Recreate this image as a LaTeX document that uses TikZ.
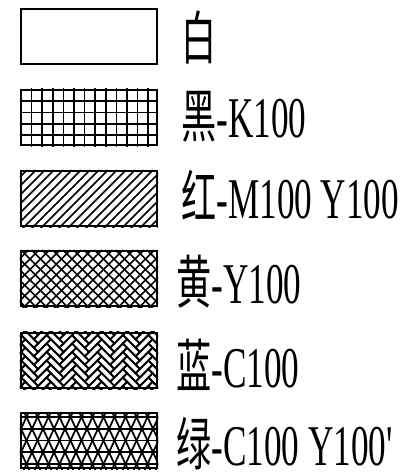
\documentclass[tikz,border=0pt]{standalone}
\usepackage{fontspec}
\setmainfont{Liberation Serif}
\newfontfamily\cjk{Noto Sans CJK SC}
\usepackage{graphicx}
\usetikzlibrary{positioning}

\begin{document}
\begin{tikzpicture}[x=0.025cm,y=-0.025cm,
    swatch/.style={rectangle,draw,line width=1.5pt,minimum width=3.4cm,minimum height=1.375cm,inner sep=0pt},
    hatch/.style={line width=1.25pt},
    lab/.style={anchor=base west,inner sep=0pt,font=\fontsize{41}{41}\selectfont}]
\useasboundingbox (0,0) rectangle (402,475);
\foreach \k/\t in {1/9,2/90,3/171,4/251,5/333,6/413} {
    \node[swatch] (sw\k) at (89,{\t+27.5}) {};
}
% black: grid
\begin{scope}
\clip (sw2.south west) rectangle (sw2.north east);
\foreach \i in {1,...,12} \draw[hatch] ({21+10.6*\i},80) -- ({21+10.6*\i},160);
\foreach \j in {1,...,4} \draw[hatch] (10,{90+11.3*\j}) -- (170,{90+11.3*\j});
\end{scope}
% red: diagonal
\begin{scope}
\clip (sw3.south west) rectangle (sw3.north east);
\foreach \i in {-8,...,16} \draw[hatch] ({21+9*\i},230) -- ({21+9*\i+60},170);
\end{scope}
% yellow: cross
\begin{scope}
\clip (sw4.south west) rectangle (sw4.north east);
\foreach \i in {-7,...,15} {
    \draw[hatch] ({21+10.5*\i},310) -- ({21+10.5*\i+60},250);
    \draw[hatch] ({21+10.5*\i},250) -- ({21+10.5*\i+60},310);
}
\end{scope}
% blue: herringbone
\begin{scope}
\clip (sw5.south west) rectangle (sw5.north east);
\begin{scope}[shift={(sw5.center)},rotate=45,x=0.15cm,y=0.15cm]
\foreach \i in {-14,...,14} \foreach \j in {-5,...,5} {
    \draw[hatch] ({\i+3*\j},{\i-3*\j}) rectangle +(3,1);
    \draw[hatch] ({\i+3*\j},{\i-3*\j+1}) rectangle +(1,3);
}
\end{scope}
\end{scope}
% green: triangles
\begin{scope}
\clip (sw6.south west) rectangle (sw6.north east);
\foreach \j in {0,...,4} \draw[hatch] (10,{417+11.75*\j}) -- (170,{417+11.75*\j});
\foreach \i in {-6,...,18} {
    \draw[hatch] ({26.5+11*\i},417) -- ({26.5+11*\i+25.7},472);
    \draw[hatch] ({26.5+11*\i},417) -- ({26.5+11*\i-25.7},472);
    \draw[hatch] ({26.5+11*\i},417) -- ({26.5+11*\i+1.9},413);
    \draw[hatch] ({26.5+11*\i},417) -- ({26.5+11*\i-1.9},413);
}
\end{scope}
\foreach \k/\x/\y/\txt in {1/181/59/{{\cjk 白}},2/181/137/{{\cjk 黑}-K100},3/181/218/{{\cjk 红}-M100 Y100},
    4/176/303/{{\cjk 黄}-Y100},5/176/387/{{\cjk 蓝}-C100},6/176/465/{{\cjk 绿}-C100 Y100\textquotesingle}} {
    \node[lab] (t\k) at (\x,\y) {\scalebox{0.61}[1]{\txt}};
}
\end{tikzpicture}
\end{document}
